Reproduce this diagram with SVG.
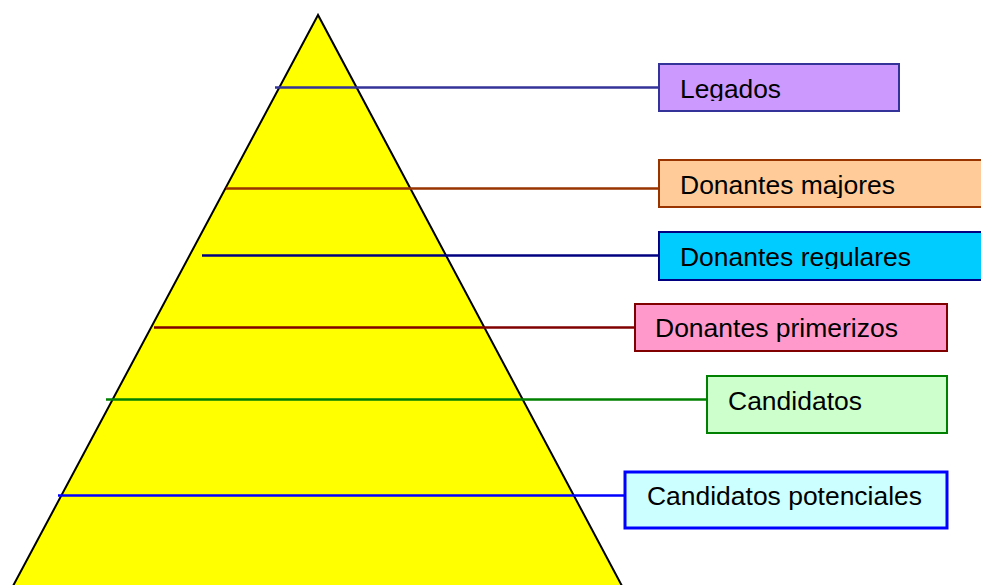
<svg xmlns="http://www.w3.org/2000/svg" width="981" height="585" viewBox="0 0 981 585">
<style>
.lbl{font-family:"Liberation Sans",Arial,sans-serif;font-size:26px;fill:#000}
.box{stroke-width:2}
.ln{stroke-width:2.5;fill:none}
</style>
<defs>
<clipPath id="c1"><rect x="660" y="65" width="238" height="36"/></clipPath>
<clipPath id="c2"><rect x="660" y="161" width="320" height="37"/></clipPath>
<clipPath id="c3"><rect x="660" y="233" width="320" height="36"/></clipPath>
<clipPath id="c4"><rect x="636" y="305" width="310" height="37"/></clipPath>
</defs>
<rect width="981" height="585" fill="#fff"/>
<g id="pyramid">
<polygon points="318,15 13,586 622,586" fill="#FFFF00" stroke="#000" stroke-width="2"/>
</g>
<g id="connectors">
<line class="ln" x1="275" y1="87.5" x2="659" y2="87.5" stroke="#333399"/>
<line class="ln" x1="226" y1="188.5" x2="659" y2="188.5" stroke="#993300"/>
<line class="ln" x1="202" y1="255.5" x2="659" y2="255.5" stroke="#000080"/>
<line class="ln" x1="154" y1="327.5" x2="634" y2="327.5" stroke="#800000"/>
<line class="ln" x1="106" y1="399.5" x2="707" y2="399.5" stroke="#008000"/>
<line class="ln" x1="58" y1="495.5" x2="625" y2="495.5" stroke="#0000FF" stroke-width="3"/>
</g>
<g id="legados">
<rect class="box" x="659" y="64" width="240" height="47" fill="#CC99FF" stroke="#333399"/>
<text class="lbl" x="680" y="98" textLength="101" lengthAdjust="spacingAndGlyphs" clip-path="url(#c1)">Legados</text>
</g>
<g id="donantes-majores">
<rect class="box" x="659" y="160" width="340" height="47" fill="#FFCC99" stroke="#993300"/>
<text class="lbl" x="680" y="194" textLength="215" lengthAdjust="spacingAndGlyphs" clip-path="url(#c2)">Donantes majores</text>
</g>
<g id="donantes-regulares">
<rect class="box" x="659" y="232" width="340" height="48" fill="#00CCFF" stroke="#000080"/>
<text class="lbl" x="680" y="266" textLength="231" lengthAdjust="spacingAndGlyphs" clip-path="url(#c3)">Donantes regulares</text>
</g>
<g id="donantes-primerizos">
<rect class="box" x="635" y="304" width="312" height="47" fill="#FF99CC" stroke="#800000"/>
<text class="lbl" x="655" y="337" textLength="243" lengthAdjust="spacingAndGlyphs" clip-path="url(#c4)">Donantes primerizos</text>
</g>
<g id="candidatos">
<rect class="box" x="707" y="376" width="240" height="57" fill="#CCFFCC" stroke="#008000"/>
<text class="lbl" x="728" y="410" textLength="134" lengthAdjust="spacingAndGlyphs">Candidatos</text>
</g>
<g id="candidatos-potenciales">
<rect x="625" y="472" width="322" height="56" fill="#CCFFFF" stroke="#0000FF" stroke-width="3"/>
<text class="lbl" x="647" y="505" textLength="275" lengthAdjust="spacingAndGlyphs">Candidatos potenciales</text>
</g>
</svg>
